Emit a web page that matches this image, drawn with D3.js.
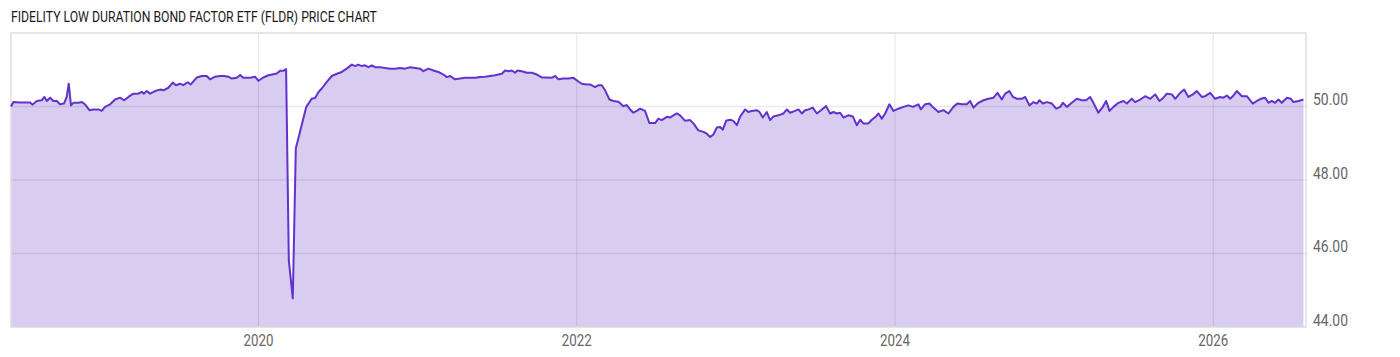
<!DOCTYPE html>
<html>
<head>
<meta charset="utf-8">
<script src="https://cdn.jsdelivr.net/npm/d3@7"></script>
<style>
  html, body { margin: 0; padding: 0; background: #fff; }
  svg { display: block; font-family: Roboto, "Noto Sans", sans-serif; }
</style>
</head>
<body>
<div id="chart"></div>
<script>
// weekly closes, time as decimal year
const years = [
  // mid 2018 - crash
  2018.444, 2018.459, 2018.501, 2018.564, 2018.578, 2018.606, 2018.637, 2018.654, 2018.669, 2018.690,
  2018.710, 2018.732, 2018.752, 2018.777, 2018.794, 2018.807, 2018.821, 2018.836, 2018.867, 2018.889,
  2018.909, 2018.937, 2018.962, 2018.993, 2019.014, 2019.035, 2019.067, 2019.098, 2019.129, 2019.155,
  2019.182, 2019.213, 2019.244, 2019.266, 2019.280, 2019.297, 2019.318, 2019.349, 2019.381, 2019.402,
  2019.433, 2019.461, 2019.481, 2019.507, 2019.527, 2019.555, 2019.574, 2019.612, 2019.643, 2019.674,
  2019.695, 2019.727, 2019.758, 2019.783, 2019.810, 2019.832, 2019.863, 2019.884, 2019.904, 2019.947,
  2019.978, 2019.999, 2020.030, 2020.062, 2020.093, 2020.114, 2020.135, 2020.156, 2020.173,
  // march 2020
  2020.190, 2020.215, 2020.234,
  // recovery - early 2022
  2020.300, 2020.334, 2020.355, 2020.376, 2020.397, 2020.429, 2020.460, 2020.492, 2020.523, 2020.554,
  2020.586, 2020.607, 2020.627, 2020.649, 2020.669, 2020.690, 2020.712, 2020.732, 2020.764, 2020.795,
  2020.827, 2020.858, 2020.889, 2020.921, 2020.952, 2020.984, 2021.015, 2021.036, 2021.067, 2021.099,
  2021.130, 2021.162, 2021.183, 2021.204, 2021.235, 2021.267, 2021.298, 2021.329, 2021.361, 2021.392,
  2021.424, 2021.455, 2021.487, 2021.507, 2021.529, 2021.549, 2021.570, 2021.591, 2021.612, 2021.627,
  2021.654, 2021.686, 2021.717, 2021.749, 2021.780, 2021.811, 2021.843, 2021.864, 2021.884, 2021.916,
  2021.947, 2021.979, 2022.010, 2022.031, 2022.063, 2022.084,
  // 2022 - 2023
  2022.115, 2022.136, 2022.157, 2022.178, 2022.205, 2022.230, 2022.262, 2022.293, 2022.314, 2022.335,
  2022.356, 2022.377, 2022.398, 2022.429, 2022.456, 2022.492, 2022.513, 2022.534, 2022.566, 2022.587,
  2022.607, 2022.629, 2022.649, 2022.681, 2022.712, 2022.733, 2022.764, 2022.796, 2022.817, 2022.838,
  2022.859, 2022.880, 2022.901, 2022.918, 2022.938, 2022.964, 2022.984, 2023.006, 2023.026, 2023.058,
  2023.079, 2023.100, 2023.131, 2023.148, 2023.169, 2023.194, 2023.215, 2023.236, 2023.267, 2023.299,
  2023.320, 2023.341, 2023.372, 2023.393, 2023.414, 2023.435, 2023.456, 2023.483, 2023.509, 2023.540,
  2023.567, 2023.592, 2023.613, 2023.634, 2023.655, 2023.676, 2023.707, 2023.735, 2023.760, 2023.781,
  2023.801, 2023.833, 2023.854, 2023.881, 2023.896, 2023.917, 2023.938, 2023.965,
  // 2024 - 2026
  2023.990, 2024.021, 2024.053, 2024.084, 2024.112, 2024.147, 2024.162, 2024.189, 2024.216, 2024.241,
  2024.273, 2024.304, 2024.336, 2024.367, 2024.392, 2024.420, 2024.451, 2024.472, 2024.493, 2024.524,
  2024.556, 2024.587, 2024.619, 2024.644, 2024.671, 2024.692, 2024.719, 2024.741, 2024.766, 2024.797,
  2024.818, 2024.845, 2024.870, 2024.891, 2024.908, 2024.929, 2024.954, 2024.986, 2025.013, 2025.038,
  2025.055, 2025.080, 2025.111, 2025.143, 2025.174, 2025.201, 2025.226, 2025.247, 2025.278, 2025.306,
  2025.327, 2025.348, 2025.373, 2025.404, 2025.436, 2025.457, 2025.488, 2025.509, 2025.541, 2025.572,
  2025.604, 2025.635, 2025.662, 2025.687, 2025.708, 2025.740, 2025.761, 2025.792, 2025.817, 2025.844,
  2025.872, 2025.897, 2025.928, 2025.949, 2025.981, 2026.012, 2026.043, 2026.064, 2026.086, 2026.106,
  2026.127, 2026.148, 2026.180, 2026.211, 2026.249, 2026.274, 2026.299, 2026.326, 2026.347, 2026.368,
  2026.389, 2026.410, 2026.431, 2026.463, 2026.488, 2026.504, 2026.536, 2026.567
];

const prices = [
  50.00, 50.12, 50.11, 50.11, 50.05, 50.15, 50.17, 50.26, 50.15, 50.24,
  50.15, 50.15, 50.06, 50.08, 50.26, 50.62, 50.03, 50.10, 50.10, 50.12,
  50.06, 49.90, 49.92, 49.92, 49.88, 49.99, 50.06, 50.19, 50.24, 50.17,
  50.26, 50.35, 50.35, 50.40, 50.35, 50.42, 50.35, 50.42, 50.46, 50.44,
  50.51, 50.65, 50.58, 50.62, 50.58, 50.66, 50.60, 50.79, 50.83, 50.83,
  50.74, 50.81, 50.83, 50.83, 50.81, 50.76, 50.78, 50.86, 50.78, 50.78,
  50.81, 50.70, 50.79, 50.85, 50.88, 50.90, 50.97, 50.97, 51.02,
  45.82, 44.78, 48.86,
  49.99, 50.21, 50.23, 50.39, 50.49, 50.67, 50.83, 50.89, 50.94, 51.03,
  51.14, 51.10, 51.14, 51.10, 51.12, 51.07, 51.12, 51.07, 51.07, 51.05,
  51.03, 51.03, 51.05, 51.03, 51.07, 51.05, 51.03, 50.96, 51.03, 50.98,
  50.94, 50.87, 50.80, 50.83, 50.74, 50.76, 50.78, 50.78, 50.78, 50.80,
  50.81, 50.83, 50.85, 50.87, 50.89, 50.98, 50.96, 50.98, 50.92, 50.98,
  50.96, 50.92, 50.92, 50.87, 50.79, 50.79, 50.78, 50.83, 50.74, 50.76,
  50.76, 50.78, 50.68, 50.62, 50.60, 50.60,
  50.53, 50.58, 50.58, 50.44, 50.19, 50.15, 50.13, 50.01, 50.04, 49.92,
  49.83, 49.88, 49.94, 49.88, 49.55, 49.55, 49.67, 49.63, 49.72, 49.70,
  49.76, 49.81, 49.76, 49.61, 49.63, 49.54, 49.35, 49.31, 49.26, 49.17,
  49.24, 49.43, 49.44, 49.37, 49.61, 49.64, 49.61, 49.49, 49.72, 49.92,
  49.85, 49.88, 49.90, 49.85, 49.70, 49.85, 49.63, 49.73, 49.76, 49.81,
  49.92, 49.83, 49.88, 49.92, 49.81, 49.90, 49.92, 49.97, 49.81, 49.92,
  50.01, 49.81, 49.85, 49.81, 49.83, 49.70, 49.76, 49.73, 49.49, 49.64,
  49.54, 49.54, 49.64, 49.73, 49.81, 49.67, 49.81, 50.06,
  49.88, 49.94, 49.99, 50.03, 49.99, 50.06, 49.92, 50.06, 50.08, 49.97,
  49.85, 49.90, 49.81, 49.99, 50.08, 50.06, 50.06, 50.15, 49.97, 50.10,
  50.17, 50.21, 50.24, 50.37, 50.19, 50.35, 50.42, 50.26, 50.21, 50.21,
  50.26, 50.03, 50.12, 50.08, 50.17, 50.08, 50.12, 50.08, 49.94, 49.99,
  50.10, 49.99, 50.10, 50.21, 50.17, 50.17, 50.26, 50.10, 49.83, 49.99,
  50.15, 49.88, 49.99, 50.10, 50.15, 50.08, 50.21, 50.12, 50.19, 50.28,
  50.21, 50.33, 50.15, 50.24, 50.35, 50.33, 50.21, 50.37, 50.46, 50.26,
  50.33, 50.42, 50.26, 50.28, 50.37, 50.21, 50.26, 50.24, 50.30, 50.21,
  50.30, 50.42, 50.28, 50.28, 50.08, 50.15, 50.21, 50.24, 50.10, 50.15,
  50.10, 50.19, 50.10, 50.24, 50.21, 50.12, 50.15, 50.19
];

const xTicks = [2020, 2022, 2024, 2026];
const yTicks = [44, 46, 48, 50];
const xDomain = [2018.444, 2026.583];
const yDomain = [44, 52];
const title = "FIDELITY LOW DURATION BOND FACTOR ETF (FLDR) PRICE CHART";

const width = 1400;
const height = 357;
const margin = { top: 33, right: 94, bottom: 30, left: 11 };
const innerWidth = width - margin.left - margin.right;
const innerHeight = height - margin.top - margin.bottom;

const data = years.map((t, i) => ({ t, v: prices[i] }));

// squeeze a text horizontally to a target width (narrow look of the original font)
function squeeze(sel, target) {
  sel.each(function () {
    const len = this.getComputedTextLength();
    const s = len > target ? target / len : 1;
    const x0 = +this.getAttribute("x") || 0;
    d3.select(this).attr("transform", `translate(${x0 * (1 - s)},0) scale(${s},1)`);
  });
}

const svg = d3.select("#chart")
  .append("svg")
  .attr("width", width)
  .attr("height", height);

svg.append("text")
  .attr("x", 11)
  .attr("y", 22.5)
  .attr("font-size", 15)
  .attr("fill", "#1a1a1a")
  .text(title)
  .call(squeeze, 366);

// scales in page coordinates
const x = d3.scaleLinear().domain(xDomain).range([margin.left, margin.left + innerWidth]);
const y = d3.scaleLinear().domain(yDomain).range([margin.top + innerHeight, margin.top]);

// area under the price line
const area = d3.area()
  .x((d) => x(d.t))
  .y0(y(yDomain[0]))
  .y1((d) => y(d.v));

svg.append("path")
  .datum(data)
  .attr("fill", "#d8cdf1")
  .attr("d", area);

// grid
svg.append("g")
  .selectAll("line")
  .data(yTicks)
  .join("line")
  .attr("x1", x(xDomain[0]))
  .attr("x2", x(xDomain[1]))
  .attr("y1", (d) => y(d))
  .attr("y2", (d) => y(d))
  .attr("stroke", "rgba(0,0,0,0.08)")
  .attr("stroke-width", 1.5);

svg.append("g")
  .selectAll("line")
  .data(xTicks)
  .join("line")
  .attr("x1", (d) => x(d))
  .attr("x2", (d) => x(d))
  .attr("y1", y(yDomain[1]))
  .attr("y2", y(yDomain[0]))
  .attr("stroke", "rgba(0,0,0,0.1)")
  .attr("stroke-width", 1);

// frame
svg.append("rect")
  .attr("x", margin.left)
  .attr("y", margin.top)
  .attr("width", innerWidth)
  .attr("height", innerHeight)
  .attr("fill", "none")
  .attr("stroke", "#dedede")
  .attr("stroke-width", 1.5);

const line = d3.line()
  .x((d) => x(d.t))
  .y((d) => y(d.v));

svg.append("path")
  .datum(data)
  .attr("fill", "none")
  .attr("stroke", "#6232cc")
  .attr("stroke-width", 2)
  .attr("stroke-linejoin", "round")
  .attr("d", line);

// tick labels
const fmtPrice = d3.format(".2f");

svg.append("g")
  .selectAll("text")
  .data(yTicks)
  .join("text")
  .attr("x", x(xDomain[1]) + 7)
  .attr("y", (d) => y(d) - 1)
  .attr("font-size", 16)
  .attr("fill", "#666")
  .text((d) => fmtPrice(d))
  .call(squeeze, 35);

svg.append("g")
  .selectAll("text")
  .data(xTicks)
  .join("text")
  .attr("x", (d) => x(d))
  .attr("y", y(yDomain[0]) + 19)
  .attr("text-anchor", "middle")
  .attr("font-size", 16)
  .attr("fill", "#666")
  .text((d) => d)
  .call(squeeze, 30);
</script>
</body>
</html>
